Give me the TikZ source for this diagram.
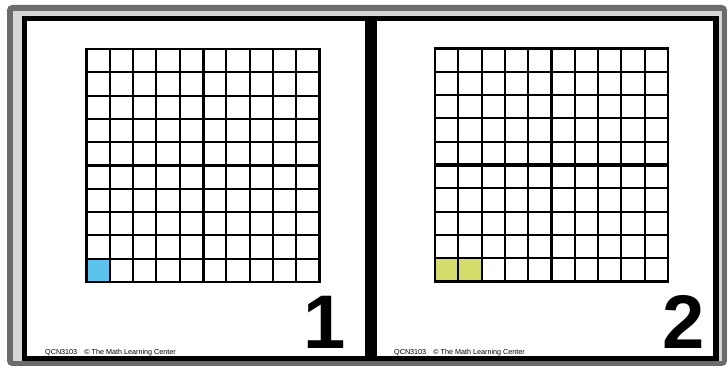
\documentclass[tikz,border=0pt]{standalone}
\usepackage{fontspec}
\setmainfont{Liberation Sans}
\usepackage{tikz}
\usetikzlibrary{positioning,calc}
\definecolor{frameGray}{HTML}{6B6B6B}
\definecolor{paleGray}{HTML}{D6D6D6}
\definecolor{cellBlue}{HTML}{5BC3EC}
\definecolor{cellLime}{HTML}{D4DC6C}
\tikzset{
  thingrid/.style={line width=2pt, draw=black},
  halfline/.style={line width=3pt, draw=black},
  panel/.style={fill=white},
  cardnum/.style={font=\fontsize{76}{76}\selectfont\bfseries, anchor=base east, inner sep=0pt},
  footer/.style={font=\fontsize{7.2}{8}\selectfont, anchor=west, inner sep=0pt}
}

\begin{document}
\begin{tikzpicture}[x=1pt, y=-1pt]
\useasboundingbox (0,0) rectangle (727,366);
% frame
\fill[frameGray, rounded corners=5pt] (7,5) rectangle (727,366);
\fill[paleGray] (13,11) rectangle (722,361);
\fill[black] (22,16) rectangle (719,361);
\fill[panel] (27,21) rectangle (365,356);
\fill[panel] (377,21) rectangle (713,356);

% two hundredths grids
\foreach \gx/\gy/\n/\col/\k/\nx/\fx in {86.5/49/1/cellBlue/1/346/45, 435/48.5/2/cellLime/2/705/394} {
  \begin{scope}[shift={(\gx,\gy)}]
    \fill[\col] (0,9*23.3) rectangle (\n*23.3,10*23.3);
    \foreach \i in {1,...,9} {
      \draw[thingrid] (\i*23.3,0) -- (\i*23.3,233);
      \draw[thingrid] (0,\i*23.3) -- (233,\i*23.3);
    }
    \draw[halfline] (116.5,0) -- (116.5,233);
    \draw[halfline] (0,116.5) -- (233,116.5);
    \draw[thingrid, line width=2.6pt] (0,0) rectangle (233,233);
  \end{scope}
  \node[cardnum] (num\k) at (\nx,348) {\k};
  \node[footer] (foot\k) at (\fx,353) {QCN3103\quad © The Math Learning Center};
}
\end{tikzpicture}
\end{document}
